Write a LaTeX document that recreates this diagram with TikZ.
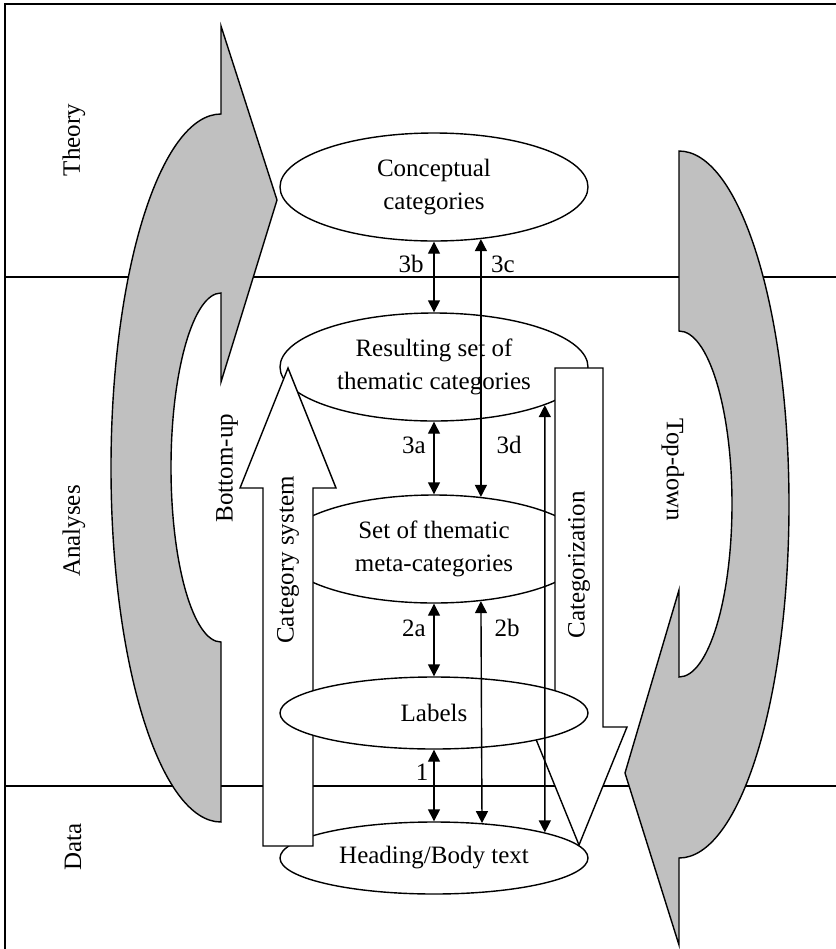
\documentclass[tikz,border=0pt]{standalone}
\usepackage{fontspec}
\setmainfont{Liberation Serif}
\usetikzlibrary{arrows.meta,shapes.geometric}
\definecolor{bandgray}{RGB}{192,192,192}

\begin{document}
\begin{tikzpicture}
    [
      x=0.5pt, y=-0.5pt,
      every node/.style={font=\fontsize{12.5}{16.5}\selectfont},
      stage/.style={ellipse,draw,fill=white,line width=0.7pt,inner sep=0pt,minimum width=154pt,align=center},
      tall/.style={stage,minimum height=54pt},
      flat/.style={stage,minimum height=36pt},
      band/.style={draw,fill=bandgray,line width=0.7pt},
      flow/.style={draw,fill=white,line width=0.7pt},
      link/.style={{Triangle[length=6pt,width=6pt]}-{Triangle[length=6pt,width=6pt]},line width=0.7pt},
      tag/.style={inner sep=0pt},
    ]
    \useasboundingbox (0,0) rectangle (836,949);

    % frame and levels
    \draw [line width=0.9pt] (836,4) -- (5,4) -- (5,949);
    \draw [line width=0.7pt] (5,277) -- (836,277);
    \draw [line width=0.7pt] (5,786) -- (836,786);

    \node (level-theory) [tag,rotate=90] at (74,140) {Theory};
    \node (level-analyses) [tag,rotate=90] at (74,531) {Analyses};
    \node (level-data) [tag,rotate=90] at (73,847) {Data};

    % curved gray arrows
    \draw [band] (221,822) arc [start angle=90, end angle=270, x radius=110, y radius=354]
      -- (221,26) -- (277,200) -- (221,382) -- (221,293)
      arc [start angle=270, end angle=90, x radius=50, y radius=174.5] -- cycle;
    \draw [band] (679,151) arc [start angle=270, end angle=450, x radius=110, y radius=353.5]
      -- (679,945) -- (625,773) -- (679,590) -- (679,677)
      arc [start angle=90, end angle=-90, x radius=53, y radius=173] -- cycle;
    \node (bottom-up) [tag,rotate=90] at (227,468) {Bottom-up};
    \node (top-down) [tag,rotate=-90] at (673,470) {Top-down};

    \node (cat-heading) [flat] at (434,858) {Heading/Body text};
    \node (cat-concept) [tall] at (434,187) {Conceptual\\categories};
    \node (cat-result) [tall] at (434,367) {Resulting set of\\thematic categories};
    \node (cat-meta) [tall] at (434,549) {Set of thematic\\meta-categories};

    % white block arrows
    \draw [flow] (263,846) -- (263,488) -- (240,488) -- (288,368) -- (336,488) -- (313,488) -- (313,846) -- cycle;
    \draw [flow] (555,368) -- (603,368) -- (603,727) -- (627,727) -- (579,845) -- (531,727) -- (555,727) -- cycle;
    \node (cat-system) [tag,rotate=90] at (288,560) {Category system};
    \node (categorization) [tag,rotate=90] at (579,565) {Categorization};

    \node (cat-labels) [flat] at (434,713) {Labels};

    \path
    (cat-concept.-90) edge [link] (cat-result.90)
    (cat-concept.-48) edge [link] (cat-meta.48)
    (cat-result.-90) edge [link] (cat-meta.90)
    (cat-result.-19.3) edge [link] (cat-heading.13.1)

    (cat-meta.-90) edge [link] (cat-labels.90)
    (cat-meta.-48) edge [link] (cat-heading.36.8)
    (cat-labels.-90) edge [link] (cat-heading.90)
    ;

    \node (step-3b) [tag] at (411,264) {3b};
    \node (step-3c) [tag] at (503,264) {3c};
    \node (step-3a) [tag] at (414,445) {3a};
    \node (step-3d) [tag] at (509,445) {3d};
    \node (step-2a) [tag] at (414,628) {2a};
    \node (step-2b) [tag] at (507,628) {2b};
    \node (step-1) [tag] at (422,772) {1};

\end{tikzpicture}
\end{document}
